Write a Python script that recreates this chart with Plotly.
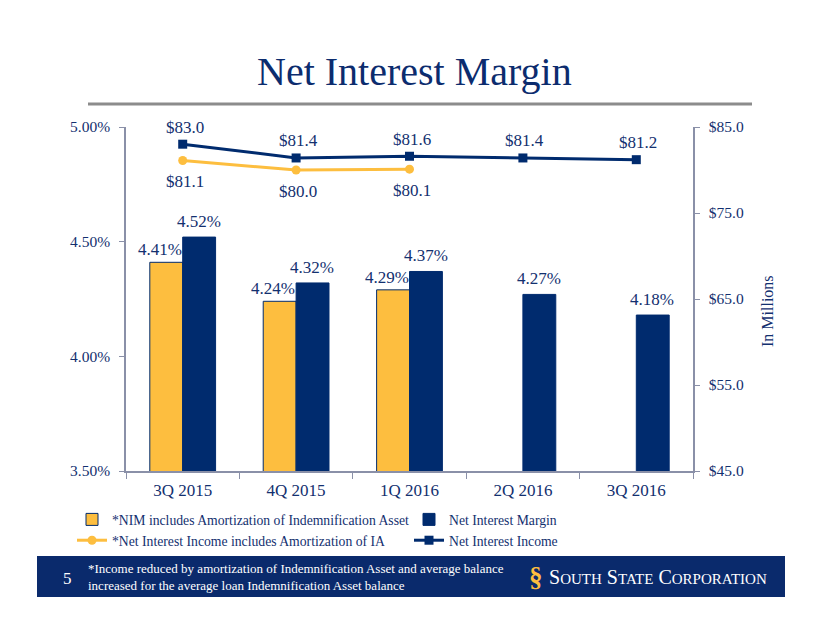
import plotly.graph_objects as go

# ---------------- data ----------------
categories = ["3Q 2015", "4Q 2015", "1Q 2016", "2Q 2016", "3Q 2016"]
nim_ia = [4.41, 4.24, 4.29, None, None]          # *NIM includes Amortization of IA (%)
nim = [4.52, 4.32, 4.37, 4.27, 4.18]             # Net Interest Margin (%)
nii_ia = [81.1, 80.0, 80.1, None, None]          # *Net Interest Income incl. amortization of IA ($M)
nii = [83.0, 81.4, 81.6, 81.4, 81.2]             # Net Interest Income ($M)

left_ticks = [3.5, 4.0, 4.5, 5.0]
left_ticktext = ["3.50%", "4.00%", "4.50%", "5.00%"]
right_ticks = [45, 55, 65, 75, 85]
right_ticktext = ["$45.0", "$55.0", "$65.0", "$75.0", "$85.0"]

footnote_lines = ["*Income reduced by amortization of Indemnification Asset and average balance",
                  "increased for the average loan Indemnification Asset balance"]

# ---------------- style ----------------
NAVY = "#002B6E"
GOLD = "#FDBE3F"
TXT = "#13306F"
AXC = "#8A90A8"
FONT = "Liberation Serif"

OFF = 8                      # page body margin offset
W, H = 822 - OFF, 635 - OFF
L, R, T, B = 126, 693, 127, 471   # plot area in window pixels


def px(x):
    return (x - L) / (R - L)


def py(y):
    return (B - y) / (B - T)


fig = go.Figure()

fig.add_trace(go.Bar(
    x=categories, y=nim_ia, name="*NIM includes Amortization of Indemnification Asset",
    marker=dict(color=GOLD, line=dict(color=NAVY, width=1)), hoverinfo="skip"))
fig.add_trace(go.Bar(
    x=categories, y=nim, name="Net Interest Margin",
    marker=dict(color=NAVY, line=dict(color=NAVY, width=1)), hoverinfo="skip"))

fig.add_trace(go.Scatter(
    x=categories, y=nii_ia, yaxis="y2", name="*Net Interest Income includes Amortization of IA",
    mode="lines+markers", line=dict(color=GOLD, width=3),
    marker=dict(symbol="circle", size=9, color=GOLD), hoverinfo="skip"))
fig.add_trace(go.Scatter(
    x=categories, y=nii, yaxis="y2", name="Net Interest Income",
    mode="lines+markers", line=dict(color=NAVY, width=3),
    marker=dict(symbol="square", size=9, color=NAVY), hoverinfo="skip"))

lab_font = dict(family=FONT, size=17, color=TXT)

# line value labels
for c, v in zip(categories, nii_ia):
    if v is not None:
        fig.add_annotation(x=c, y=v, xref="x", yref="y2", text=f"${v:.1f}", showarrow=False,
                           xshift=2, yanchor="middle", yshift=-21, font=lab_font)
for c, v in zip(categories, nii):
    fig.add_annotation(x=c, y=v, xref="x", yref="y2", text=f"${v:.1f}", showarrow=False,
                       xshift=2, yanchor="middle", yshift=17, font=lab_font)

# bar value labels
for c, v in zip(categories, nim_ia):
    if v is not None:
        fig.add_annotation(x=c, y=v, xref="x", yref="y", text=f"{v:.2f}%", showarrow=False,
                           xshift=-23, yanchor="bottom", yshift=1, font=lab_font)
for c, v in zip(categories, nim):
    fig.add_annotation(x=c, y=v, xref="x", yref="y", text=f"{v:.2f}%", showarrow=False,
                       xshift=16, yanchor="bottom", yshift=4, font=lab_font)

# title
fig.add_annotation(x=px(414), y=py(72), xref="paper", yref="paper", text="Net Interest Margin",
                   showarrow=False, font=dict(family=FONT, size=40, color="#0C2C6E"),
                   xanchor="center", yanchor="middle")
fig.add_shape(type="line", xref="paper", yref="paper", x0=px(88), x1=px(752), y0=py(104), y1=py(104),
              line=dict(color="#8C8C8C", width=3))

# right axis title
fig.add_annotation(x=px(767), y=py(311), xref="paper", yref="paper", text="In Millions",
                   showarrow=False, textangle=-90, xanchor="center", yanchor="middle",
                   font=dict(family=FONT, size=16, color=TXT))

# footer band
fig.add_shape(type="rect", xref="paper", yref="paper", x0=px(37), x1=px(785), y0=py(556), y1=py(597),
              fillcolor="#0A2A6C", line=dict(width=0), layer="above")
fig.add_annotation(x=px(67), y=py(578), xref="paper", yref="paper", text="5", showarrow=False,
                   xanchor="center", yanchor="middle",
                   font=dict(family=FONT, size=17, color="white"))
fig.add_annotation(x=px(86), y=py(577), xref="paper", yref="paper", text="<br>".join(footnote_lines),
                   showarrow=False, align="left", xanchor="left", yanchor="middle",
                   font=dict(family=FONT, size=13, color="white"))
fig.add_annotation(x=px(536), y=py(577), xref="paper", yref="paper", text="<b>§</b>", showarrow=False,
                   xanchor="center", yanchor="middle",
                   font=dict(family=FONT, size=27, color=GOLD))
fig.add_annotation(x=px(547), y=py(577), xref="paper", yref="paper", xanchor="left", yanchor="middle",
                   text="S<span style='font-size:15px'>OUTH</span> S<span style='font-size:15px'>TATE</span> "
                        "C<span style='font-size:15px'>ORPORATION</span>",
                   showarrow=False, font=dict(family=FONT, size=20, color="white"))

fig.update_layout(
    width=W, height=H,
    margin=dict(l=L - OFF, r=W - (R - OFF), t=T - OFF, b=H - (B - OFF), pad=0, autoexpand=False),
    paper_bgcolor="white", plot_bgcolor="white",
    barmode="group", bargap=0.42, bargroupgap=0,
    font=dict(family=FONT, color=TXT),
    xaxis=dict(type="category", showline=True, linecolor=AXC, linewidth=1.5,
               ticks="outside", tickson="boundaries", tickcolor=AXC, ticklen=6,
               ticklabelstandoff=3,
               tickfont=dict(family=FONT, size=17, color=TXT), showgrid=False),
    yaxis=dict(range=[3.5, 5.0], tickvals=left_ticks, ticktext=left_ticktext,
               showline=True, linecolor=AXC, linewidth=1.5, ticks="outside", tickcolor=AXC,
               ticklen=5, ticklabelstandoff=6, showgrid=False, zeroline=False,
               tickfont=dict(family=FONT, size=15.5, color=TXT)),
    yaxis2=dict(range=[45, 85], tickvals=right_ticks, ticktext=right_ticktext, overlaying="y",
                side="right", showline=True, linecolor=AXC, linewidth=1.5, ticks="outside",
                tickcolor=AXC, ticklen=5, ticklabelstandoff=6, showgrid=False, zeroline=False,
                tickfont=dict(family=FONT, size=15.5, color=TXT)),
    legend=dict(orientation="h", xref="paper", yref="paper", x=px(72), y=py(504),
                xanchor="left", yanchor="top", entrywidth=292,
                font=dict(family=FONT, size=13.7, color=TXT),
                bgcolor="rgba(0,0,0,0)", itemclick=False, traceorder="normal"),
    showlegend=True,
)

fig.write_html("out.html")
